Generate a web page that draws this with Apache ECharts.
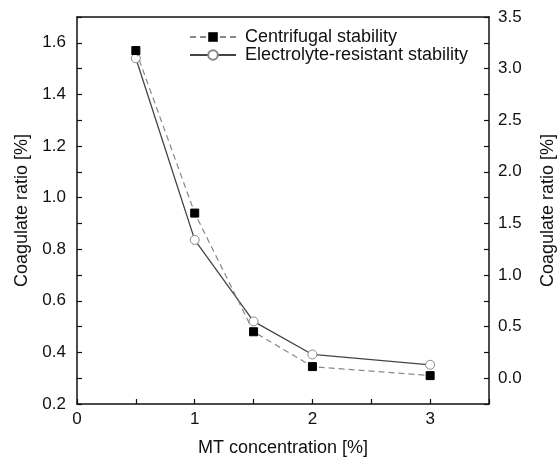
<!DOCTYPE html>
<html>
<head>
<meta charset="utf-8">
<script src="https://cdn.jsdelivr.net/npm/echarts@6/dist/echarts.min.js"></script>
<style>html,body{margin:0;padding:0;background:#fff}#c{width:559px;height:459px}</style>
</head>
<body>
<div id="c"></div>
<script>
const concentration = [0.5, 1, 1.5, 2, 3];
const centrifugal = [1.57, 0.94, 0.48, 0.345, 0.31];
const electrolyte = [3.10, 1.34, 0.55, 0.23, 0.13];
const seriesNames = ['Centrifugal stability', 'Electrolyte-resistant stability'];
const xName = 'MT concentration [%]';
const yName = 'Coagulate ratio [%]';

const font = 'Liberation Sans, Arial, sans-serif';
const chart = echarts.init(document.getElementById('c'));
const axisLine = {show: true, onZero: false, lineStyle: {color: '#111', width: 1.5}};
const tick = {show: true, inside: true, length: 5, lineStyle: {color: '#111', width: 1.2}};
const lbl = {color: '#111', fontSize: 17, fontFamily: font};
const nameStyle = {fontSize: 18, fontFamily: font, color: '#111'};

chart.setOption({
  animation: false,
  grid: {left: 77, right: 70, top: 17, bottom: 55, containLabel: false, outerBoundsMode: 'none'},
  legend: {
    orient: 'vertical', left: 184, top: 23, itemWidth: 46, itemHeight: 12, itemGap: 0,
    textStyle: {fontSize: 18, lineHeight: 18, fontFamily: font, color: '#111', padding: [0, 0, 0, 4]},
    data: seriesNames
  },
  xAxis: [{
    type: 'value', min: 0, max: 3.5, interval: 0.5,
    name: xName, nameLocation: 'middle', nameGap: 35,
    nameTextStyle: nameStyle,
    axisLine: axisLine, axisTick: tick, splitLine: {show: false},
    axisLabel: Object.assign({margin: 7, formatter: v => Math.abs(v - Math.round(v)) < 1e-6 ? String(Math.round(v)) : ''}, lbl)
  }, {
    type: 'value', position: 'top', min: 0, max: 3.5,
    axisLine: axisLine, axisTick: {show: false}, axisLabel: {show: false}, splitLine: {show: false}
  }],
  yAxis: [{
    type: 'value', min: 0.2, max: 1.7, interval: 0.1,
    name: yName, nameLocation: 'middle', nameGap: 44, nameRotate: 90,
    nameTextStyle: nameStyle,
    axisLine: axisLine, axisTick: tick, splitLine: {show: false},
    axisLabel: Object.assign({margin: 11, formatter: v => Math.round(v * 10) % 2 === 0 ? v.toFixed(1) : ''}, lbl)
  }, {
    type: 'value', position: 'right', min: -0.25, max: 3.5, interval: 0.25,
    name: yName, nameLocation: 'middle', nameGap: 50, nameRotate: 90,
    nameTextStyle: nameStyle,
    axisLine: axisLine, axisTick: tick, splitLine: {show: false},
    axisLabel: Object.assign({margin: 9, formatter: v => (v >= 0 && Math.round(v * 4) % 2 === 0) ? v.toFixed(1) : ''}, lbl)
  }],
  series: [{
    name: seriesNames[0], type: 'line', xAxisIndex: 0, yAxisIndex: 0,
    data: concentration.map((x, i) => [x, centrifugal[i]]),
    symbol: 'rect', symbolSize: 8,
    itemStyle: {color: '#000', borderColor: '#000'},
    lineStyle: {color: '#888', width: 1.2, type: [6, 4]},
    z: 3
  }, {
    name: seriesNames[1], type: 'line', xAxisIndex: 0, yAxisIndex: 1,
    data: concentration.map((x, i) => [x, electrolyte[i]]),
    symbol: 'circle', symbolSize: 9,
    itemStyle: {color: '#fff', borderColor: '#888', borderWidth: 1},
    lineStyle: {color: '#444', width: 1.3},
    z: 2
  }]
});
</script>
</body>
</html>
